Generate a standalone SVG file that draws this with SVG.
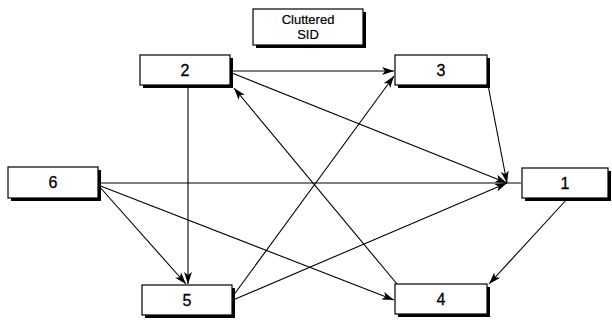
<svg xmlns="http://www.w3.org/2000/svg" width="612" height="320" viewBox="0 0 612 320">
  <style>
    .shadow { fill: #000; }
    .box { fill: #fff; stroke: #000; stroke-width: 1.2; }
    .num { font-family: "Liberation Sans", Arial, sans-serif; font-size: 16px; fill: #000; stroke: #000; stroke-width: 0.3; text-anchor: middle; }
    .title { font-family: "Liberation Sans", Arial, sans-serif; font-size: 13px; fill: #000; stroke: #000; stroke-width: 0.2; text-anchor: middle; }
    .edge { stroke: #000; stroke-width: 1.1; fill: none; }
  </style>
  <defs>
    <marker id="arrow" viewBox="0 0 12 8" refX="12" refY="4" markerWidth="12" markerHeight="8" markerUnits="userSpaceOnUse" orient="auto">
      <path d="M0,0 L12,4 L0,8 L3,4 Z" fill="#000"/>
    </marker>
  </defs>
  <rect width="612" height="320" fill="#fff"/>

  <g id="title">
    <rect class="shadow" x="256" y="12" width="110" height="36"/>
    <rect class="box" x="253" y="9" width="110" height="36"/>
    <text class="title" x="308" y="24">Cluttered</text>
    <text class="title" x="308" y="39">SID</text>
  </g>

  <!-- connectors -->
  <g id="connectors">
    <line class="edge" x1="232" y1="71" x2="394" y2="71" marker-end="url(#arrow)"/>
    <line class="edge" x1="188" y1="85" x2="188" y2="284" marker-end="url(#arrow)"/>
    <line class="edge" x1="232" y1="73" x2="507" y2="183" marker-end="url(#arrow)"/>
    <line class="edge" x1="488" y1="85" x2="507" y2="183" marker-end="url(#arrow)"/>
    <line class="edge" x1="98" y1="183" x2="521" y2="183"/>
    <line class="edge" x1="233" y1="300" x2="507" y2="183" marker-end="url(#arrow)"/>
    <line class="edge" x1="233" y1="296" x2="394" y2="76" marker-end="url(#arrow)"/>
    <line class="edge" x1="397" y1="284" x2="234" y2="88" marker-end="url(#arrow)"/>
    <line class="edge" x1="568" y1="198" x2="489" y2="284" marker-end="url(#arrow)"/>
    <line class="edge" x1="98" y1="185" x2="186" y2="284" marker-end="url(#arrow)"/>
    <line class="edge" x1="98" y1="185" x2="394" y2="300" marker-end="url(#arrow)"/>
  </g>

  <g id="node2">
    <rect class="shadow" x="143" y="58" width="90" height="30"/>
    <rect class="box" x="140" y="55" width="90" height="30"/>
    <text class="num" x="185" y="76">2</text>
  </g>
  <g id="node3">
    <rect class="shadow" x="398" y="58" width="92" height="30"/>
    <rect class="box" x="395" y="55" width="92" height="30"/>
    <text class="num" x="441" y="76">3</text>
  </g>
  <g id="node6">
    <rect class="shadow" x="11" y="170" width="90" height="31"/>
    <rect class="box" x="8" y="167" width="90" height="31"/>
    <text class="num" x="53" y="188">6</text>
  </g>
  <g id="node1">
    <rect class="shadow" x="525" y="171" width="86" height="30"/>
    <rect class="box" x="522" y="168" width="86" height="30"/>
    <text class="num" x="565" y="189">1</text>
  </g>
  <g id="node5">
    <rect class="shadow" x="145" y="288" width="90" height="30"/>
    <rect class="box" x="142" y="285" width="90" height="30"/>
    <text class="num" x="187" y="306">5</text>
  </g>
  <g id="node4">
    <rect class="shadow" x="398" y="287" width="92" height="30"/>
    <rect class="box" x="395" y="284" width="92" height="30"/>
    <text class="num" x="441" y="305">4</text>
  </g>
</svg>
